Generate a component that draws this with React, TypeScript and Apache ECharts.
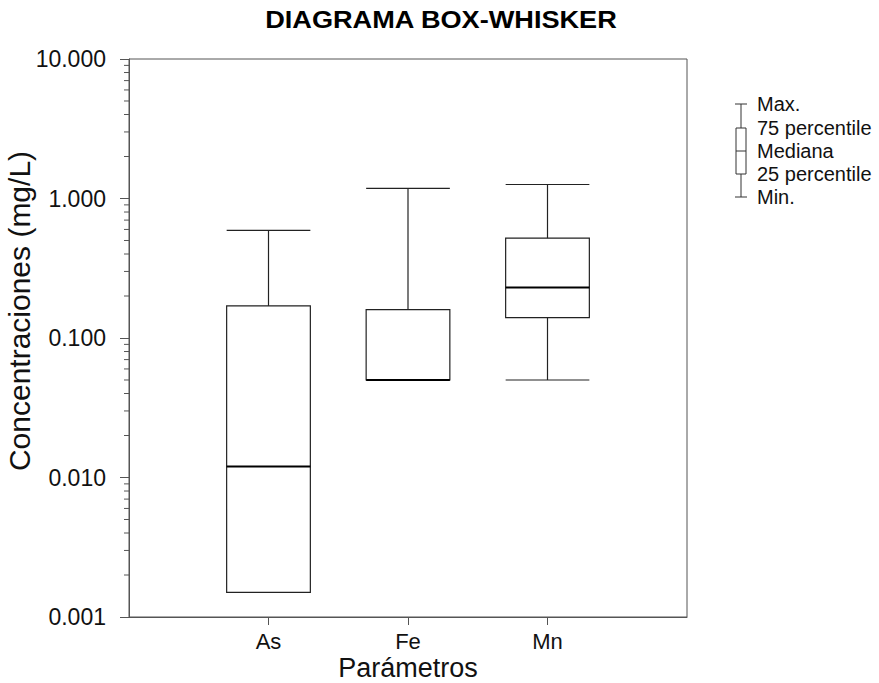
import React, { useEffect, useRef } from "react";
import * as echarts from "echarts";

const categories = ["", "As", "Fe", "Mn", ""];
const elements = ["As", "Fe", "Mn"];
const minVals = [0.0015, 0.05, 0.05];
const q1Vals = [0.0015, 0.05, 0.14];
const medianVals = [0.012, 0.05, 0.23];
const q3Vals = [0.17, 0.16, 0.52];
const maxVals = [0.59, 1.18, 1.26];
const yTicks = [0.001, 0.01, 0.1, 1, 10];
const legendLabels = ["Max.", "75 percentile", "Mediana", "25 percentile", "Min."];

const FONT = "'Liberation Sans', Arial, sans-serif";

export default function App() {
  const ref = useRef<HTMLDivElement>(null);

  useEffect(() => {
    if (!ref.current) return;
    const chart = echarts.init(ref.current, undefined, { renderer: "svg" });

    const boxData = elements.map((c, i) => [
      categories.indexOf(c),
      minVals[i],
      q1Vals[i],
      medianVals[i],
      q3Vals[i],
      maxVals[i],
    ]);

    const minorTicks: number[][] = [];
    for (let d = 0; d < yTicks.length - 1; d++) {
      for (let m = 2; m <= 9; m++) minorTicks.push([0, yTicks[d] * m]);
    }

    const lineCol = "#222";

    const legendX = 741;
    const legendRows = [104, 128, 151, 174, 197];

    const option: any = {
      animation: false,
      backgroundColor: "#fff",
      grid: {
        left: 129,
        top: 59,
        width: 558,
        height: 558,
        containLabel: false,
        outerBoundsMode: "none",
        show: true,
        borderColor: "#555",
        borderWidth: 1,
        backgroundColor: "transparent",
      },
      xAxis: {
        type: "category",
        data: categories,
        boundaryGap: false,
        name: "Parámetros",
        nameLocation: "middle",
        nameGap: 37,
        nameMoveOverlap: false,
        nameTextStyle: { fontSize: 27, color: "#111", fontFamily: FONT },
        axisLine: { lineStyle: { color: "#555", width: 1 } },
        axisTick: {
          length: 8,
          interval: (idx: number) => idx >= 1 && idx <= 3,
          lineStyle: { color: "#555" },
        },
        axisLabel: {
          interval: 0,
          fontSize: 22,
          margin: 13,
          color: "#111",
          fontFamily: FONT,
        },
        splitLine: { show: false },
      },
      yAxis: {
        type: "log",
        logBase: 10,
        min: yTicks[0],
        max: yTicks[yTicks.length - 1],
        splitNumber: 4,
        name: "Concentraciones (mg/L)",
        nameLocation: "middle",
        nameGap: 95,
        nameRotate: 90,
        nameMoveOverlap: false,
        nameTextStyle: {
          fontSize: 30,
          color: "#111",
          fontFamily: FONT,
          padding: [0, 0, 0, 54],
        },
        axisLine: { show: true, lineStyle: { color: "#555", width: 1 } },
        axisTick: { show: true, length: 9, lineStyle: { color: "#555" } },
        axisLabel: {
          fontSize: 23,
          margin: 23,
          color: "#111",
          fontFamily: FONT,
          formatter: (v: number) => Number(v).toFixed(3),
        },
        splitLine: { show: false },
      },
      graphic: [
        {
          type: "text",
          x: 441,
          y: 20,
          scaleX: 1.18,
          style: {
            text: "DIAGRAMA BOX-WHISKER",
            fontSize: 23,
            fontWeight: "bold",
            fontFamily: FONT,
            fill: "#000",
            textAlign: "center",
            textVerticalAlign: "middle",
            verticalAlign: "middle",
          },
        },
        {
          type: "line",
          shape: { x1: legendX - 6, y1: legendRows[0], x2: legendX + 6, y2: legendRows[0] },
          style: { stroke: "#333", lineWidth: 1 },
        },
        {
          type: "line",
          shape: { x1: legendX, y1: legendRows[0], x2: legendX, y2: legendRows[1] },
          style: { stroke: "#333", lineWidth: 1 },
        },
        {
          type: "rect",
          shape: { x: legendX - 5, y: legendRows[1], width: 10, height: legendRows[3] - legendRows[1] },
          style: { stroke: "#333", fill: "#fff", lineWidth: 1 },
        },
        {
          type: "line",
          shape: { x1: legendX - 5, y1: legendRows[2], x2: legendX + 5, y2: legendRows[2] },
          style: { stroke: "#333", lineWidth: 1 },
        },
        {
          type: "line",
          shape: { x1: legendX, y1: legendRows[3], x2: legendX, y2: legendRows[4] },
          style: { stroke: "#333", lineWidth: 1 },
        },
        {
          type: "line",
          shape: { x1: legendX - 6, y1: legendRows[4], x2: legendX + 6, y2: legendRows[4] },
          style: { stroke: "#333", lineWidth: 1 },
        },
        ...legendLabels.map((t, i) => ({
          type: "text",
          x: 757,
          y: legendRows[i],
          style: {
            text: t,
            fontSize: 20,
            fontFamily: FONT,
            fill: "#111",
            textVerticalAlign: "middle",
            verticalAlign: "middle",
          },
        })),
      ],
      series: [
        {
          type: "custom",
          data: boxData,
          clip: false,
          encode: { x: 0, y: [1, 2, 3, 4, 5] },
          renderItem: (params: any, api: any) => {
            const x = api.value(0);
            const pMin = api.coord([x, api.value(1)]);
            const pQ1 = api.coord([x, api.value(2)]);
            const pMed = api.coord([x, api.value(3)]);
            const pQ3 = api.coord([x, api.value(4)]);
            const pMax = api.coord([x, api.value(5)]);
            const cx = pMed[0];
            const half = (params.coordSys.width / 4) * 0.3;
            const children: any[] = [];
            const ln = (x1: number, y1: number, x2: number, y2: number, w = 1.2, c = lineCol) =>
              children.push({
                type: "line",
                shape: { x1, y1, x2, y2 },
                style: { stroke: c, lineWidth: w },
              });
            ln(cx, pMax[1], cx, pQ3[1]);
            ln(cx - half, pMax[1], cx + half, pMax[1]);
            if (api.value(1) < api.value(2)) {
              ln(cx, pQ1[1], cx, pMin[1]);
              ln(cx - half, pMin[1], cx + half, pMin[1]);
            }
            children.push({
              type: "rect",
              shape: { x: cx - half, y: pQ3[1], width: half * 2, height: pQ1[1] - pQ3[1] },
              style: { stroke: lineCol, fill: "none", lineWidth: 1.2 },
            });
            ln(cx - half, pMed[1], cx + half, pMed[1], 2, "#000");
            return { type: "group", children };
          },
        },
        {
          type: "custom",
          data: minorTicks,
          clip: false,
          z: 5,
          encode: { x: 0, y: 1 },
          silent: true,
          renderItem: (params: any, api: any) => {
            const p = api.coord([0, api.value(1)]);
            const x0 = params.coordSys.x;
            return {
              type: "line",
              shape: { x1: x0 - 5, y1: p[1], x2: x0, y2: p[1] },
              style: { stroke: "#555", lineWidth: 1 },
            };
          },
        },
      ],
    };

    chart.setOption(option);
    return () => chart.dispose();
  }, []);

  return (
    <div
      ref={ref}
      style={{ position: "fixed", left: 0, top: 0, width: 879, height: 683 }}
    />
  );
}
